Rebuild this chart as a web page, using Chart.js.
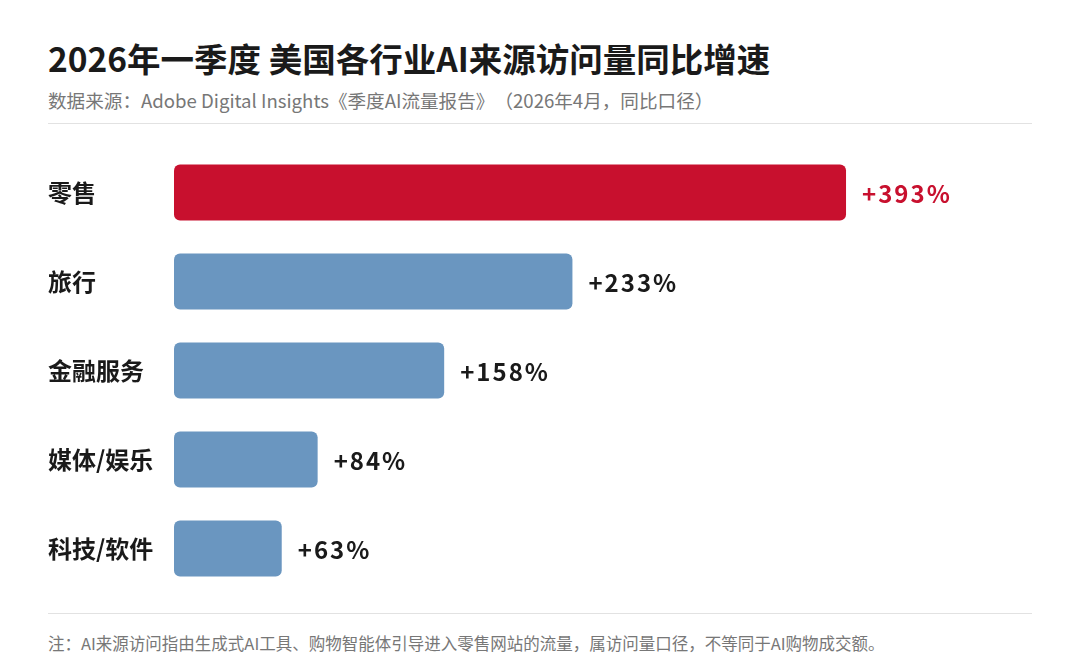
<!DOCTYPE html>
<html>
<head>
<meta charset="utf-8">
<script src="https://cdn.jsdelivr.net/npm/chart.js@4.4.1/dist/chart.umd.min.js"></script>
<style>
  html, body { margin: 0; padding: 0; background: #fff; }
  body { width: 1080px; height: 662px; position: relative; overflow: hidden;
         font-family: "Noto Sans CJK SC", "Noto Sans", sans-serif; text-spacing-trim: space-all; }
  .title { position: absolute; left: 48px; top: 33px; font-size: 33.5px; font-weight: 700; color: #1a1a1a; white-space: nowrap; }
  .sub { position: absolute; left: 48px; top: 86px; font-size: 18.6px; color: #777; white-space: nowrap; }
  .rule { position: absolute; left: 48px; width: 984px; height: 1px; background: #e2e2e2; }
  .note { position: absolute; left: 48px; top: 631px; font-size: 16.5px; color: #777; white-space: nowrap; }
  #wrap { position: absolute; left: 0; top: 124px; width: 1080px; height: 489px; }
</style>
</head>
<body>
<div class="title">2026年一季度 美国各行业AI来源访问量同比增速</div>
<div class="sub">数据来源：Adobe Digital Insights《季度AI流量报告》（2026年4月，同比口径）</div>
<div class="rule" style="top:123px"></div>
<div id="wrap"><canvas id="chart"></canvas></div>
<div class="rule" style="top:613px"></div>
<div class="note">注：AI来源访问指由生成式AI工具、购物智能体引导进入零售网站的流量，属访问量口径，不等同于AI购物成交额。</div>

<script>
// ===== DATA =====
const industries = ['零售', '旅行', '金融服务', '媒体/娱乐', '科技/软件'];
const growthPct = [393, 233, 158, 84, 63];
const highlightIndex = 0;

const RED = '#c8102e';
const BLUE = '#6a96c0';

// value labels at the end of each bar
const valueLabels = {
  id: 'valueLabels',
  afterDatasetsDraw(chart) {
    const ctx = chart.ctx;
    const meta = chart.getDatasetMeta(0);
    ctx.save();
    ctx.font = '700 24px "Noto Sans CJK SC", "Noto Sans", sans-serif';
    ctx.textBaseline = 'middle';
    ctx.textAlign = 'left';
    ctx.letterSpacing = '2px';
    meta.data.forEach((bar, i) => {
      ctx.fillStyle = i === highlightIndex ? RED : '#1a1a1a';
      ctx.fillText('+' + growthPct[i] + '%', bar.x + 16, bar.y + 1);
    });
    ctx.restore();
  }
};

new Chart(document.getElementById('chart'), {
  type: 'bar',
  data: {
    labels: industries,
    datasets: [{
      data: growthPct,
      backgroundColor: growthPct.map((v, i) => i === highlightIndex ? RED : BLUE),
      borderRadius: 6,
      borderSkipped: false,
      categoryPercentage: 1,
      barPercentage: 0.63
    }]
  },
  options: {
    indexAxis: 'y',
    responsive: true,
    maintainAspectRatio: false,
    animation: false,
    layout: { padding: { left: 48, right: 51, top: 24, bottom: 20 } },
    plugins: { legend: { display: false }, tooltip: { enabled: false } },
    scales: {
      x: { display: false, min: 0, max: 500 },
      y: {
        grid: { display: false },
        border: { display: false },
        ticks: {
          crossAlign: 'far',
          padding: 0,
          color: '#1a1a1a',
          font: { family: '"Noto Sans CJK SC", "Noto Sans", sans-serif', size: 24, weight: '700' }
        },
        afterFit(scale) { scale.width = 126; }
      }
    }
  },
  plugins: [valueLabels]
});
</script>
</body>
</html>
